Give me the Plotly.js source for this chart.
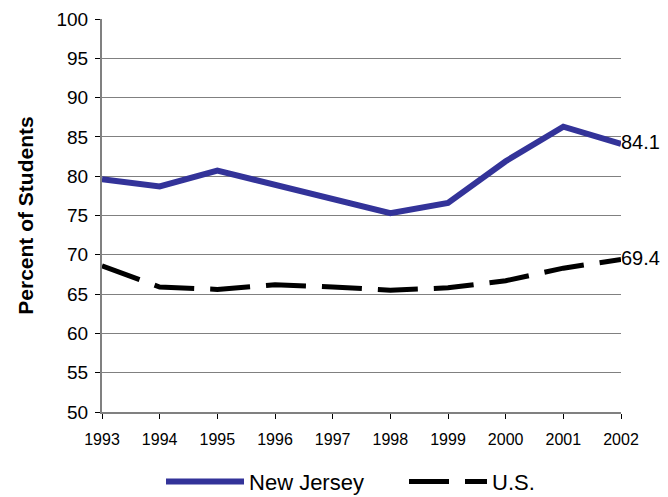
<!DOCTYPE html>
<html>
<head>
<meta charset="utf-8">
<script src="https://cdn.plot.ly/plotly-3.0.1.min.js"></script>
<style>html,body{margin:0;padding:0;background:#fff;}#chart{width:668px;height:497px;}</style>
</head>
<body>
<div id="chart"></div>
<script>
const years = [1993, 1994, 1995, 1996, 1997, 1998, 1999, 2000, 2001, 2002];
const newJersey = [79.6, 78.7, 80.7, 78.9, 77.1, 75.3, 76.6, 81.9, 86.3, 84.1];
const us = [68.6, 65.9, 65.6, 66.2, 65.9, 65.5, 65.8, 66.7, 68.3, 69.4];
const yTicks = [50, 55, 60, 65, 70, 75, 80, 85, 90, 95, 100];

function lastLabel(arr) {
  return arr.map((v, i) => (i === arr.length - 1 ? v.toFixed(1) : ''));
}

const traces = [
  {
    x: years, y: newJersey, name: 'New Jersey', type: 'scatter', mode: 'lines+text',
    line: {color: '#333399', width: 6},
    text: lastLabel(newJersey), textposition: 'middle right',
    textfont: {family: 'Liberation Sans, Arial, sans-serif', size: 20, color: '#000'},
    cliponaxis: false
  },
  {
    x: years, y: us, name: 'U.S.', type: 'scatter', mode: 'lines+text',
    line: {color: '#000000', width: 5, dash: '40px,16px'},
    text: lastLabel(us), textposition: 'middle right',
    textfont: {family: 'Liberation Sans, Arial, sans-serif', size: 20, color: '#000'},
    cliponaxis: false
  }
];

const layout = {
  width: 668, height: 497,
  margin: {l: 102, r: 47, t: 19, b: 85, autoexpand: false},
  paper_bgcolor: '#fff', plot_bgcolor: '#fff',
  font: {family: 'Liberation Sans, Arial, sans-serif', color: '#000'},
  showlegend: true,
  legend: {
    orientation: 'h', x: 0.1137, xanchor: 'left', xref: 'paper',
    y: 0.031, yanchor: 'middle', yref: 'container',
    font: {size: 22, color: '#000'}, itemwidth: 78, traceorder: 'normal',
    entrywidth: 150, entrywidthmode: 'pixels'
  },
  xaxis: {
    type: 'linear', range: [1993, 2002], tickvals: years, ticktext: years.map(String),
    showgrid: false, zeroline: false, showline: true, linecolor: '#808080', linewidth: 2,
    ticks: 'outside', ticklen: 5, tickcolor: '#000', tickwidth: 1,
    tickfont: {size: 16, color: '#000'}, ticklabelstandoff: 7
  },
  yaxis: {
    range: [50, 100], tickvals: yTicks,
    showgrid: true, gridcolor: '#808080', gridwidth: 1, zeroline: false,
    showline: true, linecolor: '#808080', linewidth: 2,
    ticks: 'outside', ticklen: 5, tickcolor: '#000', tickwidth: 1,
    tickfont: {size: 19, color: '#000'}, ticklabelstandoff: 3,
    title: {text: '<b>Percent of Students</b>', font: {size: 21, color: '#000'}, standoff: 17}
  }
};

Plotly.newPlot('chart', traces, layout, {displayModeBar: false, staticPlot: true});
</script>
</body>
</html>
